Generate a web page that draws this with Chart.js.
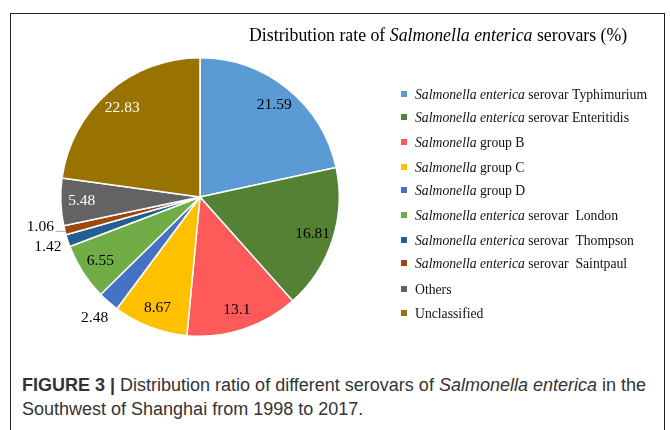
<!DOCTYPE html>
<html>
<head>
<meta charset="utf-8">
<script src="https://cdn.jsdelivr.net/npm/chart.js@4.4.1/dist/chart.umd.min.js"></script>
<style>
body { margin: 0; background: #fff; }
#frame { position: absolute; left: 10px; top: 13px; width: 653px; height: 440px; border: 1.5px solid #222; }
#c { position: absolute; left: 0; top: 0; }
#caption { position: absolute; left: 22px; top: 373px; font-family: "Liberation Sans", Arial, sans-serif;
  font-size: 18px; line-height: 24px; color: #333; white-space: nowrap; }
</style>
</head>
<body>
<div id="frame"></div>
<canvas id="c" width="670" height="350"></canvas>
<div id="caption"><b>FIGURE 3 |</b> Distribution ratio of different serovars of <i>Salmonella enterica</i> in the<br>Southwest of Shanghai from 1998 to 2017.</div>
<script>
const categories = [
    "Salmonella enterica serovar Typhimurium",
    "Salmonella enterica serovar Enteritidis",
    "Salmonella group B",
    "Salmonella group C",
    "Salmonella group D",
    "Salmonella enterica serovar  London",
    "Salmonella enterica serovar  Thompson",
    "Salmonella enterica serovar  Saintpaul",
    "Others",
    "Unclassified"
];
const rates = [21.59, 16.81, 13.1, 8.67, 2.48, 6.55, 1.42, 1.06, 5.48, 22.83];
const colors = ["#5b9bd5", "#548235", "#ff5a5a", "#ffc000", "#4472c4",
                "#70ad47", "#255e91", "#9e480e", "#636363", "#997300"];
const labelColors = ["#000", "#000", "#000", "#000", "#000",
                     "#000", "#000", "#000", "#fff", "#fff"];

const SERIF = '"Liberation Serif", "Times New Roman", serif';

// draw a string where the leading "Salmonella ..." part is italic
function drawMixed(ctx, text, x, y, size) {
    const m = text.match(/^Salmonella( enterica)?/);
    let parts = m ? [[m[0], true], [text.slice(m[0].length), false]] : [[text, false]];
    for (const [s, it] of parts) {
        ctx.font = (it ? "italic " : "") + size + "px " + SERIF;
        ctx.fillText(s, x, y);
        x += ctx.measureText(s).width;
    }
}

const extras = {
    id: "extras",
    afterDraw(chart) {
        const ctx = chart.ctx;
        ctx.save();
        ctx.fillStyle = "#000";
        ctx.textBaseline = "middle";
        ctx.textAlign = "left";
        // title
        let x = 249;
        for (const [s, it] of [["Distribution rate of ", false], ["Salmonella enterica", true], [" serovars (%)", false]]) {
            ctx.font = (it ? "italic " : "") + "17.8px " + SERIF;
            ctx.fillText(s, x, 36);
            x += ctx.measureText(s).width;
        }
        // legend
        const rows = [95, 118, 143, 168, 191, 216, 241, 264, 290, 314];
        categories.forEach((c, i) => {
            ctx.fillStyle = colors[i];
            ctx.fillRect(401, rows[i] - 4, 6, 6);
            ctx.fillStyle = "#111";
            drawMixed(ctx, c, 415, rows[i], 13.7);
        });
        // data labels
        const meta = chart.getDatasetMeta(0);
        ctx.textAlign = "center";
        ctx.font = "15.5px " + SERIF;
        meta.data.forEach((arc, i) => {
            const p = arc.getProps(["x", "y", "startAngle", "endAngle", "outerRadius"], true);
            const mid = (p.startAngle + p.endAngle) / 2;
            const v = rates[i];
            if (v < 3) {
                const d = p.outerRadius + 21;
                let tx = p.x + Math.cos(mid) * d, ty = p.y + Math.sin(mid) * d;
                if (v < 1.2) {
                    // smallest slice: label lifted away from its neighbour, with a leader line
                    tx -= 4;
                    ty -= 8;
                    ctx.strokeStyle = "#aaa";
                    ctx.lineWidth = 1;
                    ctx.beginPath();
                    ctx.moveTo(tx + 15, ty + 4);
                    ctx.lineTo(p.x + Math.cos(mid) * (p.outerRadius - 1), ty + 4);
                    ctx.stroke();
                }
                ctx.fillStyle = "#000";
                ctx.fillText(String(v), tx, ty);
            } else {
                const d = p.outerRadius * 0.85;
                ctx.fillStyle = labelColors[i];
                ctx.fillText(String(v), p.x + Math.cos(mid) * d, p.y + Math.sin(mid) * d);
            }
        });
        ctx.restore();
    }
};

new Chart(document.getElementById("c"), {
    type: "pie",
    data: {
        labels: categories,
        datasets: [{
            data: rates,
            backgroundColor: colors,
            borderColor: "#fff",
            borderWidth: 1.5
        }]
    },
    options: {
        responsive: false,
        animation: false,
        layout: { padding: { left: 60, right: 330, top: 57, bottom: 13 } },
        plugins: {
            legend: { display: false },
            tooltip: { enabled: false }
        }
    },
    plugins: [extras]
});
</script>
</body>
</html>
